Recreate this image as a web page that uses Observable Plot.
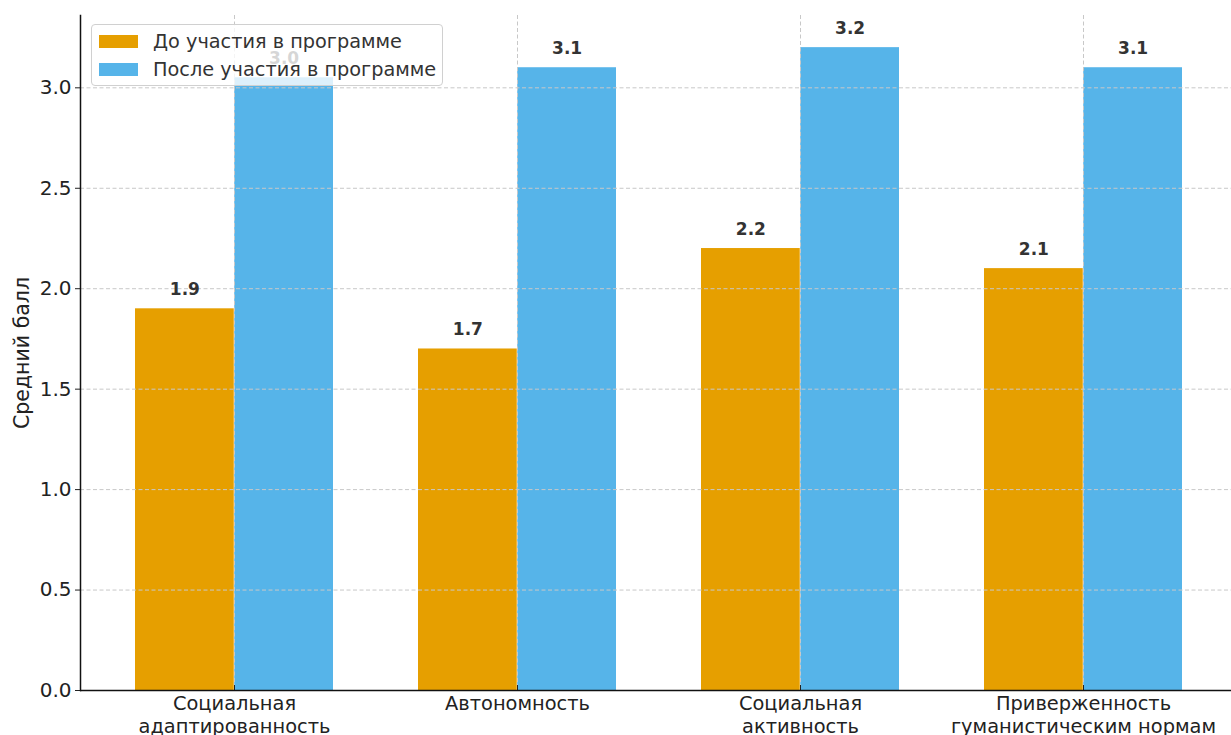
<!DOCTYPE html>
<html>
<head>
<meta charset="utf-8">
<script src="https://cdn.jsdelivr.net/npm/d3@7"></script>
<script src="https://cdn.jsdelivr.net/npm/@observablehq/plot@0.6"></script>
<style>
  html, body { margin: 0; padding: 0; background: #fff; overflow: hidden; }
  #wrap { position: relative; width: 1231px; height: 735px; font-family: "DejaVu Sans", sans-serif; }
  #legend { position: absolute; left: 91px; top: 24px; width: 352px; height: 62px; box-sizing: border-box;
    border: 1px solid #d0d0d0; border-radius: 4px; background: rgba(255,255,255,0.8); }
  .item { position: absolute; left: 7px; display: flex; align-items: center; font-size: 19.3px; color: #333; }
  .sw { width: 39px; height: 13px; margin-right: 15px; }
</style>
</head>
<body>
<div id="wrap"></div>
<script>
const categories = ["Социальная\nадаптированность", "Автономность", "Социальная\nактивность", "Приверженность\nгуманистическим нормам"];
const seriesNames = ["До участия в программе", "После участия в программе"];
const before = [1.9, 1.7, 2.2, 2.1];
const after = [3.05, 3.1, 3.2, 3.1];
const beforeLabels = ["1.9", "1.7", "2.2", "2.1"];
const afterLabels = ["3.0", "3.1", "3.2", "3.1"];
const yTicks = [0, 0.5, 1.0, 1.5, 2.0, 2.5, 3.0];
const colors = ["#E69F00", "#56B4E9"];

const dBefore = categories.map((c, i) => ({cat: c, v: before[i], label: beforeLabels[i]}));
const dAfter = categories.map((c, i) => ({cat: c, v: after[i], label: afterLabels[i]}));

const half = 99.25;
const grid = {stroke: "#c8c8c8", strokeWidth: 1, strokeDasharray: "4,2.5", strokeOpacity: 1};

const chart = Plot.plot({
  width: 1231,
  height: 735,
  marginLeft: 80,
  marginRight: 0,
  marginTop: 15,
  marginBottom: 45,
  style: {fontFamily: "DejaVu Sans, sans-serif", fontSize: "20px", color: "#222", background: "white"},
  x: {type: "band", domain: categories, range: [80, 1237], paddingInner: 0.3, paddingOuter: 0.19, align: 0.5},
  y: {domain: [0, 3.36], range: [690, 15]},
  marks: [
    Plot.barY(dBefore, {x: "cat", y: "v", fill: colors[0], insetRight: half}),
    Plot.barY(dAfter, {x: "cat", y: "v", fill: colors[1], insetLeft: half}),
    Plot.ruleY(yTicks.slice(1), {...grid}),
    Plot.ruleX(categories, {x: d => d, ...grid}),
    Plot.text(dBefore, {x: "cat", y: "v", text: "label", dx: -half / 2, dy: -19, fontWeight: "bold", fontSize: 17, fill: "#333"}),
    Plot.text(dAfter, {x: "cat", y: "v", text: "label", dx: half / 2, dy: -19, fontWeight: "bold", fontSize: 17, fill: "#333"}),
    Plot.axisY({ticks: yTicks, tickFormat: d3.format(".1f"), tickSize: 5, tickPadding: 4, fontSize: 20, label: null}),
    Plot.text(["Средний балл"], {frameAnchor: "left", textAnchor: "middle", dx: -58, rotate: -90, fontSize: 20.5, fill: "#222"}),
    Plot.axisX({tickSize: 5, tickPadding: 4, dy: -5, fontSize: 19.4, lineHeight: 1.15, label: null, tickFormat: d => d}),
    Plot.ruleY([0], {stroke: "#111", strokeWidth: 1.5}),
    Plot.frame({anchor: "left", stroke: "#111", strokeWidth: 1.5})
  ]
});

const wrap = document.getElementById("wrap");
wrap.appendChild(chart);

const legend = document.createElement("div");
legend.id = "legend";
seriesNames.forEach((name, i) => {
  const item = document.createElement("div");
  item.className = "item";
  item.style.top = (i === 0 ? 5 : 33) + "px";
  const sw = document.createElement("div");
  sw.className = "sw";
  sw.style.background = colors[i];
  const t = document.createElement("span");
  t.textContent = name;
  item.appendChild(sw);
  item.appendChild(t);
  legend.appendChild(item);
});
wrap.appendChild(legend);
</script>
</body>
</html>
